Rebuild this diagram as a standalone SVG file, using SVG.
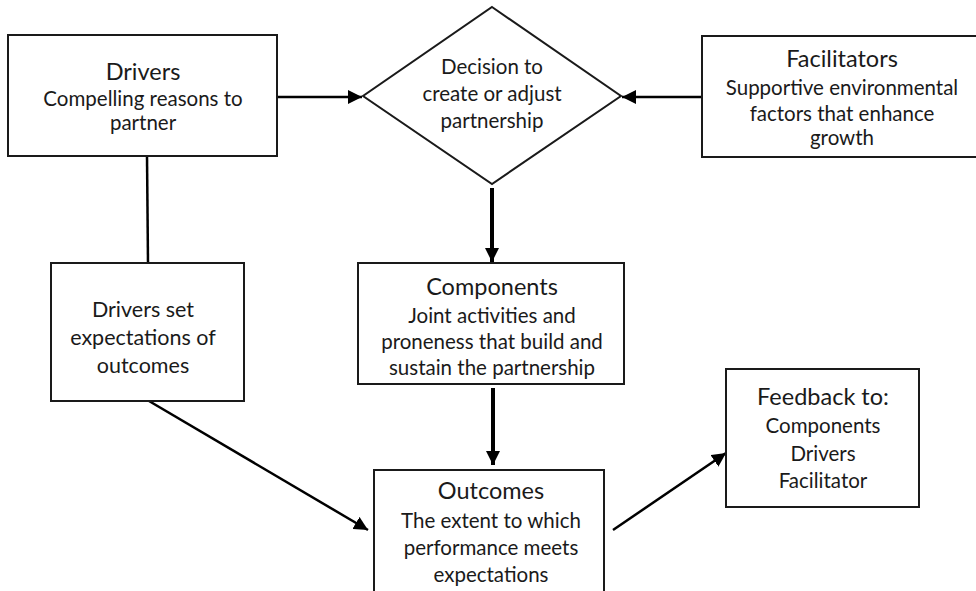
<svg xmlns="http://www.w3.org/2000/svg" width="976" height="591" viewBox="0 0 976 591">
  <style>
    .box { fill: #fff; stroke: #1a1a1a; stroke-width: 2; }
    .title { font-family: Lato, "Liberation Sans", sans-serif; font-size: 23.5px; fill: #1a1a1a; text-anchor: middle; }
    .body { font-family: Lato, "Liberation Sans", sans-serif; font-size: 20.5px; fill: #1a1a1a; text-anchor: middle; }
    .big { font-size: 21.5px; }
    .link { fill: none; stroke: #000; stroke-width: 2.5; }
    .bold { stroke-width: 4; }
  </style>
  <defs>
    <marker id="arrow" markerUnits="userSpaceOnUse" markerWidth="16" markerHeight="14" refX="14" refY="7" orient="auto">
      <path d="M0,0 L14,7 L0,14 Z" fill="#000"/>
    </marker>
  </defs>

  <g id="connectors">
    <line class="link" x1="277" y1="97" x2="362" y2="97" marker-end="url(#arrow)"/>
    <line class="link" x1="702" y1="97" x2="622" y2="97" marker-end="url(#arrow)"/>
    <line class="link" x1="147" y1="156" x2="148" y2="263"/>
    <line class="link bold" x1="492" y1="188" x2="492" y2="262" marker-end="url(#arrow)"/>
    <line class="link bold" x1="493" y1="388" x2="493" y2="465" marker-end="url(#arrow)"/>
    <line class="link" x1="149" y1="401" x2="368" y2="530" marker-end="url(#arrow)"/>
    <line class="link" x1="613" y1="530" x2="726" y2="453" marker-end="url(#arrow)"/>
  </g>

  <g id="drivers">
    <rect class="box" x="8" y="35" width="269" height="121"/>
    <text class="title" x="143" y="80">Drivers</text>
    <text class="body" x="143" y="106">Compelling reasons to</text>
    <text class="body" x="143" y="130">partner</text>
  </g>

  <g id="decision">
    <polygon class="box" points="492,7 621,96 492,184 363,96"/>
    <text class="body" x="492" y="74">Decision to</text>
    <text class="body" x="492" y="101">create or adjust</text>
    <text class="body" x="492" y="128">partnership</text>
  </g>

  <g id="facilitators">
    <rect class="box" x="702" y="36" width="280" height="121"/>
    <text class="title" x="842" y="67">Facilitators</text>
    <text class="body" x="842" y="95">Supportive environmental</text>
    <text class="body" x="842" y="121">factors that enhance</text>
    <text class="body" x="842" y="145">growth</text>
  </g>

  <g id="expectations">
    <rect class="box" x="51" y="263" width="193" height="138"/>
    <text class="body big" x="143" y="317">Drivers set</text>
    <text class="body big" x="143" y="345">expectations of</text>
    <text class="body big" x="143" y="373">outcomes</text>
  </g>

  <g id="components">
    <rect class="box" x="358" y="263" width="266" height="121"/>
    <text class="title" x="492" y="295">Components</text>
    <text class="body" x="492" y="323">Joint activities and</text>
    <text class="body" x="492" y="349">proneness that build and</text>
    <text class="body" x="492" y="375">sustain the partnership</text>
  </g>

  <g id="outcomes">
    <rect class="box" x="374" y="470" width="230" height="130"/>
    <text class="title" x="491" y="499">Outcomes</text>
    <text class="body" x="491" y="528">The extent to which</text>
    <text class="body" x="491" y="555">performance meets</text>
    <text class="body" x="491" y="582">expectations</text>
  </g>

  <g id="feedback">
    <rect class="box" x="726" y="369" width="193" height="138"/>
    <text class="title" x="823" y="405">Feedback to:</text>
    <text class="body" x="823" y="433">Components</text>
    <text class="body" x="823" y="461">Drivers</text>
    <text class="body" x="823" y="488">Facilitator</text>
  </g>
</svg>
